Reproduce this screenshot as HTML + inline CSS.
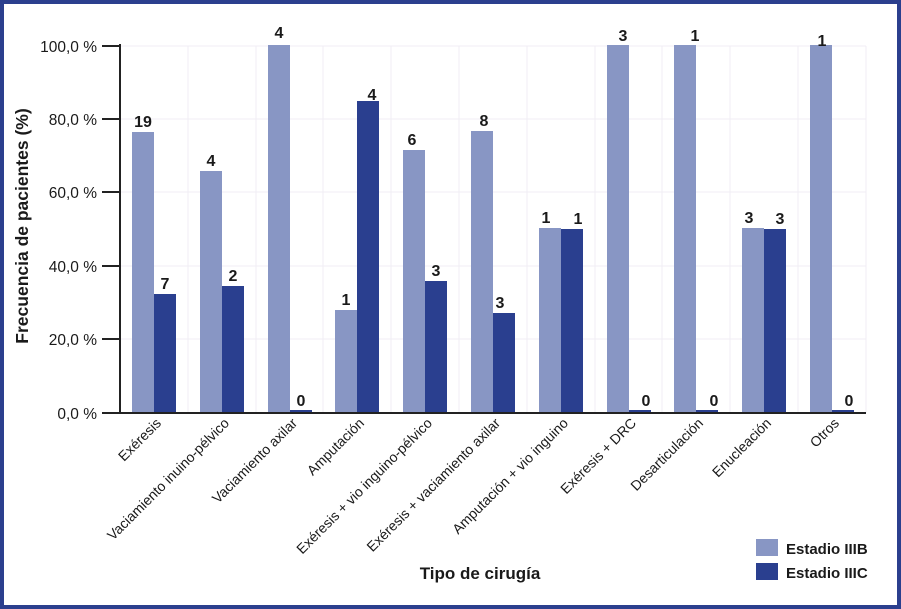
<!DOCTYPE html>
<html><head><meta charset="utf-8"><style>
html,body{margin:0;padding:0;background:#fff}
svg{display:block}
text{font-family:"Liberation Sans",sans-serif;fill:#1a1a1a}
.v{font-weight:bold;font-size:16px;text-anchor:middle}
.t{font-size:15.5px;text-anchor:end}
.x{font-size:14px;text-anchor:end}
</style></head><body>
<svg width="901" height="609" viewBox="0 0 901 609">
<rect x="2" y="2" width="897" height="605" fill="#fff" stroke="#2b3f8e" stroke-width="4"/>
<g stroke="#f0eef4" stroke-width="1">
<line x1="120" y1="46" x2="866" y2="46"/><line x1="120" y1="119" x2="866" y2="119"/><line x1="120" y1="192" x2="866" y2="192"/><line x1="120" y1="266" x2="866" y2="266"/><line x1="120" y1="339" x2="866" y2="339"/>
<line x1="188" y1="46" x2="188" y2="413"/><line x1="256" y1="46" x2="256" y2="413"/><line x1="323" y1="46" x2="323" y2="413"/><line x1="391" y1="46" x2="391" y2="413"/><line x1="459" y1="46" x2="459" y2="413"/><line x1="527" y1="46" x2="527" y2="413"/><line x1="595" y1="46" x2="595" y2="413"/><line x1="662" y1="46" x2="662" y2="413"/><line x1="730" y1="46" x2="730" y2="413"/><line x1="798" y1="46" x2="798" y2="413"/><line x1="866" y1="46" x2="866" y2="413"/>
</g>
<g fill="#8896c4">
<rect x="132" y="132" width="22" height="281"/><rect x="200" y="171" width="22" height="242"/><rect x="268" y="45" width="22" height="368"/><rect x="335" y="310" width="22" height="103"/><rect x="403" y="150" width="22" height="263"/><rect x="471" y="131" width="22" height="282"/><rect x="539" y="228" width="22" height="185"/><rect x="607" y="45" width="22" height="368"/><rect x="674" y="45" width="22" height="368"/><rect x="742" y="228" width="22" height="185"/><rect x="810" y="45" width="22" height="368"/>
</g>
<g fill="#2a3f8f">
<rect x="154" y="294" width="22" height="119"/><rect x="222" y="286" width="22" height="127"/><rect x="290" y="410" width="22" height="3"/><rect x="357" y="101" width="22" height="312"/><rect x="425" y="281" width="22" height="132"/><rect x="493" y="313" width="22" height="100"/><rect x="561" y="229" width="22" height="184"/><rect x="629" y="410" width="22" height="3"/><rect x="696" y="410" width="22" height="3"/><rect x="764" y="229" width="22" height="184"/><rect x="832" y="410" width="22" height="3"/>
</g>
<g stroke="#222" stroke-width="2">
<line x1="120" y1="44" x2="120" y2="414"/><line x1="102" y1="413" x2="866" y2="413"/>
<line x1="102" y1="46" x2="120" y2="46"/><line x1="102" y1="119" x2="120" y2="119"/><line x1="102" y1="192" x2="120" y2="192"/><line x1="102" y1="266" x2="120" y2="266"/><line x1="102" y1="339" x2="120" y2="339"/>
</g>
<g>
<text x="97" y="52" class="t">100,0 %</text><text x="97" y="125" class="t">80,0 %</text><text x="97" y="198" class="t">60,0 %</text><text x="97" y="272" class="t">40,0 %</text><text x="97" y="345" class="t">20,0 %</text><text x="97" y="419" class="t">0,0 %</text>
</g>
<g>
<text class="v" x="143" y="127">19</text><text class="v" x="165" y="289">7</text>
<text class="v" x="211" y="166">4</text><text class="v" x="233" y="281">2</text>
<text class="v" x="279" y="38">4</text><text class="v" x="301" y="406">0</text>
<text class="v" x="346" y="305">1</text><text class="v" x="372" y="100">4</text>
<text class="v" x="412" y="145">6</text><text class="v" x="436" y="276">3</text>
<text class="v" x="484" y="126">8</text><text class="v" x="500" y="308">3</text>
<text class="v" x="546" y="223">1</text><text class="v" x="578" y="224">1</text>
<text class="v" x="623" y="41">3</text><text class="v" x="646" y="406">0</text>
<text class="v" x="695" y="41">1</text><text class="v" x="714" y="406">0</text>
<text class="v" x="749" y="223">3</text><text class="v" x="780" y="224">3</text>
<text class="v" x="822" y="46">1</text><text class="v" x="849" y="406">0</text>
</g>
<g>
<text class="x" transform="translate(162,424) rotate(-45)">Exéresis</text>
<text class="x" transform="translate(230,424) rotate(-45)">Vaciamiento inuino-pélvico</text>
<text class="x" transform="translate(298,424) rotate(-45)">Vaciamiento axilar</text>
<text class="x" transform="translate(365,424) rotate(-45)">Amputación</text>
<text class="x" transform="translate(433,424) rotate(-45)">Exéresis + vio inguino-pélvico</text>
<text class="x" transform="translate(501,424) rotate(-45)">Exéresis + vaciamiento axilar</text>
<text class="x" transform="translate(569,424) rotate(-45)">Amputación + vio inguino</text>
<text class="x" transform="translate(637,424) rotate(-45)">Exéresis + DRC</text>
<text class="x" transform="translate(704,424) rotate(-45)">Desarticulación</text>
<text class="x" transform="translate(772,424) rotate(-45)">Enucleación</text>
<text class="x" transform="translate(840,424) rotate(-45)">Otros</text>
</g>
<text transform="translate(28,226) rotate(-90)" style="font-weight:bold;font-size:17.5px;text-anchor:middle">Frecuencia de pacientes (%)</text>
<text x="480" y="579" style="font-weight:bold;font-size:17px;text-anchor:middle">Tipo de cirugía</text>
<rect x="756" y="539" width="22" height="17" fill="#8896c4"/>
<rect x="756" y="563" width="22" height="17" fill="#2a3f8f"/>
<text x="786" y="554" style="font-weight:bold;font-size:15px">Estadio IIIB</text>
<text x="786" y="578" style="font-weight:bold;font-size:15px">Estadio IIIC</text>
</svg>
</body></html>
